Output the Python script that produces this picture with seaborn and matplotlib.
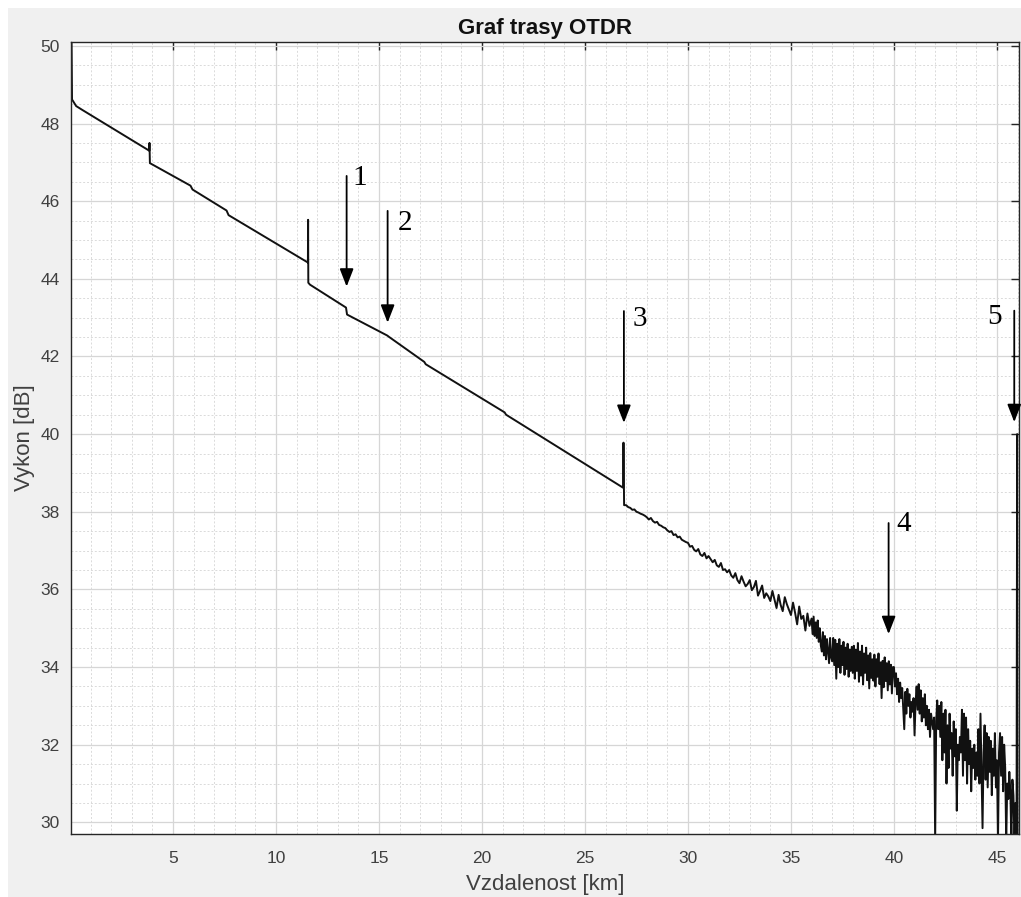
import numpy as np
import pandas as pd
import seaborn as sns
import matplotlib.pyplot as plt
from matplotlib.patches import Rectangle
from matplotlib.ticker import MultipleLocator

## smooth part of the trace (breakpoints), 0 - 27 km
smooth_km = [0.06, 0.07, 0.10, 0.3, 0.6, 3.85, 3.86, 3.88, 5.85, 5.95,
             7.60, 7.70, 11.55, 11.56, 11.57, 11.65, 13.40, 13.45, 15.40, 15.50,
             17.20, 17.27, 21.10, 21.17, 26.85, 26.87, 26.90]
smooth_db = [50.50, 50.50, 48.62, 48.45, 48.35, 47.30, 47.50, 46.98, 46.40, 46.30,
             45.76, 45.64, 44.42, 45.52, 43.90, 43.85, 43.26, 43.08, 42.54, 42.50,
             41.86, 41.80, 40.56, 40.50, 38.62, 39.78, 38.17]

## noisy part, 27.0 - 35.9 km every 0.1 km
noisy1_db = [38.17, 38.12, 38.10, 38.05, 38.06, 38.00, 37.98, 37.95, 37.93, 37.90,
             37.86, 37.80, 37.84, 37.76, 37.72, 37.74, 37.66, 37.64, 37.60, 37.58,
             37.52, 37.48, 37.50, 37.40, 37.42, 37.34, 37.36, 37.28, 37.25, 37.22,
             37.20, 37.10, 37.12, 37.02, 36.98, 37.04, 36.90, 36.86, 36.94, 36.80,
             36.86, 36.78, 36.70, 36.76, 36.62, 36.58, 36.68, 36.50, 36.52, 36.44,
             36.50, 36.36, 36.30, 36.42, 36.24, 36.16, 36.34, 36.20, 36.08, 36.14,
             36.24, 35.98, 36.06, 36.22, 35.84, 35.96, 36.10, 35.78, 35.90, 35.82,
             35.70, 35.96, 35.74, 35.52, 35.86, 35.60, 35.44, 35.80, 35.62, 35.48,
             35.34, 35.66, 35.40, 35.10, 35.56, 35.24, 35.32, 34.94, 35.38, 35.06]

## noisy part, 36.00 - 45.95 km every 0.05 km
noisy2_db = [35.25, 34.85, 35.30, 34.80, 35.15, 34.75, 35.20, 34.65, 35.00, 34.55,
             34.40, 34.90, 34.30, 34.80, 34.20, 34.72, 34.40, 34.10, 34.75, 34.25,
             34.15, 34.75, 34.05, 34.70, 33.70, 34.60, 34.00, 34.72, 33.85, 34.55,
             34.05, 34.65, 33.80, 34.50, 33.95, 34.60, 33.75, 34.45, 33.90, 34.52,
             33.85, 34.55, 33.70, 34.45, 33.90, 34.62, 33.62, 34.40, 33.78, 34.55,
             33.55, 34.35, 33.85, 34.50, 33.66, 34.30, 33.45, 34.36, 33.72, 34.20,
             33.65, 34.32, 33.50, 34.20, 33.75, 34.35, 33.56, 34.12, 33.20, 34.16,
             33.48, 34.25, 33.64, 34.10, 33.40, 34.15, 33.55, 34.06, 33.32, 34.00,
             34.00, 33.50, 33.84, 33.30, 33.70, 33.10, 33.60, 33.20, 33.46, 32.90,
             32.40, 33.36, 32.80, 33.44, 33.00, 33.30, 32.70, 33.10, 32.85, 33.20,
             32.24, 33.10, 33.50, 32.90, 33.56, 32.80, 33.40, 32.60, 33.20, 32.70,
             33.30, 32.50, 33.00, 32.40, 32.90, 32.20, 32.80, 32.60, 32.40, 32.70,
             29.50, 32.60, 33.14, 32.40, 33.00, 32.20, 33.10, 31.60, 32.80, 31.80,
             32.90, 31.00, 32.50, 31.40, 32.80, 31.90, 32.30, 31.20, 32.60, 31.70,
             32.40, 30.30, 32.00, 31.60, 32.20, 31.80, 32.90, 31.20, 32.80, 31.60,
             32.70, 31.00, 32.40, 31.50, 32.10, 30.80, 31.90, 31.40, 32.00, 31.10,
             31.80, 31.20, 32.40, 31.00, 32.80, 31.30, 29.85, 31.80, 32.50, 31.10,
             32.30, 30.90, 32.20, 31.30, 32.10, 30.70, 31.90, 31.20, 32.30, 30.90,
             31.60, 29.50, 31.80, 32.30, 31.20, 32.20, 30.80, 32.00, 31.40, 29.50,
             31.00, 30.60, 31.30, 30.80, 29.50, 31.10, 30.70, 29.50, 30.50, 29.50]

## end of fibre reflection
end_km = [45.98, 46.00, 46.02]
end_db = [40.00, 29.50, 29.50]

## event arrows: x, arrow top, arrow tip, label x, label y
events = ["1", "2", "3", "4", "5"]
event_km = [13.43, 15.42, 26.89, 39.74, 45.84]
event_top = [46.65, 45.75, 43.17, 37.71, 43.18]
event_tip = [43.80, 42.87, 40.29, 34.85, 40.31]
label_km = [14.08, 16.26, 27.67, 40.49, 44.90]
label_db = [46.60, 45.44, 42.96, 37.68, 43.02]

noisy1_km = np.round(np.arange(len(noisy1_db)) * 0.1 + 27.0, 2)
noisy2_km = np.round(np.arange(len(noisy2_db)) * 0.05 + 36.0, 2)

trace = pd.DataFrame({
    "km": np.concatenate([smooth_km, noisy1_km, noisy2_km, end_km]),
    "db": np.concatenate([smooth_db, noisy1_db, noisy2_db, end_db]),
})

sns.set_theme(style="white")
plt.rcParams["font.family"] = ["Liberation Sans", "DejaVu Sans"]

fig = plt.figure(figsize=(10.21, 8.97), dpi=100, facecolor="white")
fig.patches.append(Rectangle((8 / 1021, 0), 1, 1 - 8 / 897, transform=fig.transFigure,
                             facecolor="#f0f0f0", edgecolor="none", zorder=-10))
ax = fig.add_axes([71 / 1021, 1 - 834 / 897, 948 / 1021, 792 / 897])
ax.set_facecolor("white")

sns.lineplot(data=trace, x="km", y="db", sort=False, estimator=None,
             color="#111111", linewidth=1.4, ax=ax)

ax.set_xlim(0.05, 46.07)
ax.set_ylim(29.7, 50.1)
ax.set_xticks(range(5, 46, 5))
ax.set_yticks(range(30, 51, 2))
ax.xaxis.set_minor_locator(MultipleLocator(1))
ax.yaxis.set_minor_locator(MultipleLocator(0.5))
ax.grid(which="major", color="#d6d6d6", linewidth=0.9)
ax.grid(which="minor", color="#dadada", linewidth=0.7, linestyle=(0, (2, 2)))
ax.set_axisbelow(True)
ax.tick_params(which="major", direction="in", length=6, width=1, color="#262626",
               top=True, right=True, labelsize=12.5, labelcolor="#404040")
ax.tick_params(axis="x", pad=12)
ax.tick_params(axis="y", pad=8)
ax.tick_params(which="minor", length=0)
for s in ax.spines.values():
    s.set_color("#262626")
    s.set_linewidth(1)

ax.set_title("Graf trasy OTDR", fontsize=16, fontweight="bold", color="#111111", pad=6)
ax.set_xlabel("Vzdalenost [km]", fontsize=16, color="#404040", labelpad=6)
ax.set_ylabel("Vykon [dB]", fontsize=16, color="#404040", labelpad=4)

for lab, x, y0, y1, lx, ly in zip(events, event_km, event_top, event_tip, label_km, label_db):
    ax.annotate("", xy=(x, y1), xytext=(x, y0),
                arrowprops=dict(arrowstyle="-|>,head_length=0.9,head_width=0.35",
                                color="black", linewidth=1.3, shrinkA=0, shrinkB=0))
    ax.text(lx, ly, lab, fontsize=21, family=["Liberation Serif", "DejaVu Serif"],
            ha="center", va="center", color="black")

fig.savefig("out.png", dpi=100, facecolor=fig.get_facecolor())
